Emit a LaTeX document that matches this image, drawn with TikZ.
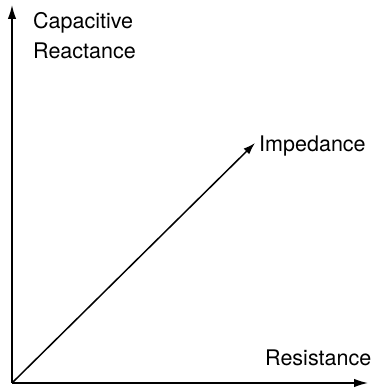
\documentclass[tikz,border=0pt]{standalone}
\usepackage{fontspec}
\setmainfont{TeX Gyre Heros}
\usetikzlibrary{arrows.meta}
\begin{document}
\begin{tikzpicture}[x=1pt,y=1pt,
  axis/.style={line width=1.5pt,-{Latex[length=14pt,width=8.5pt]}},
  lbl/.style={inner sep=0pt,font=\fontsize{21.5}{30}\selectfont,align=left}]
\useasboundingbox (0,0) rectangle (377,388);
\coordinate (O) at (12,5);
\coordinate (Y) at (12,383);
\coordinate (X) at (368,5);
\coordinate (Z) at (255,245);
\draw[axis] (O) -- (Y);
\draw[axis] (O) -- (X);
\draw[line width=1.5pt,-{Latex[length=12pt,width=8pt]}] (O) -- (Z);
\node[lbl,anchor=base west] (ylab) at (33,329) {Capacitive\\Reactance};
\node[lbl,anchor=base west] (zlab) at (259,236) {Impedance};
\node[lbl,anchor=base west] (xlab) at (265,23) {Resistance};
\end{tikzpicture}
\end{document}
